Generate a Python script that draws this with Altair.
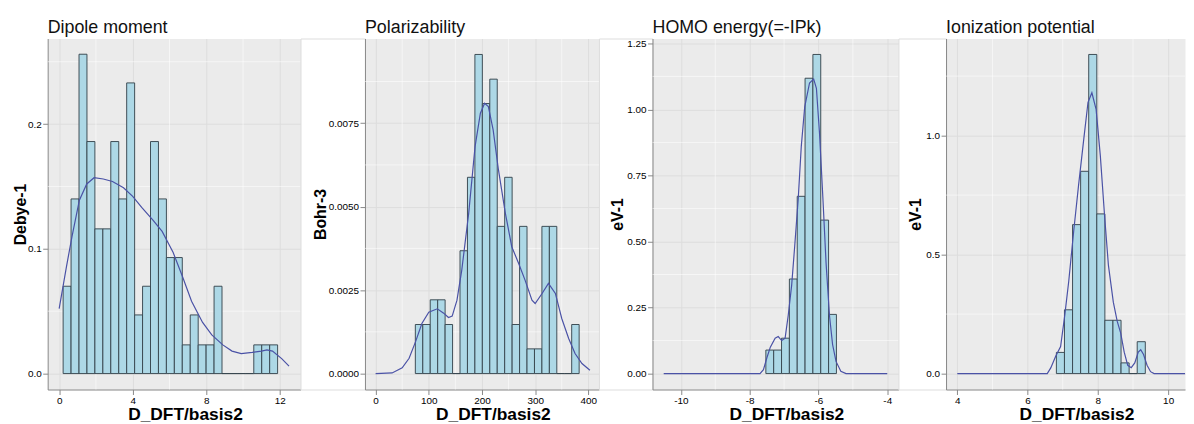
import altair as alt
import pandas as pd

H = 354

# ---------------- Dipole moment ----------------
dip_edges = [0.216, 0.648, 1.080, 1.512, 1.944, 2.376, 2.808, 3.240, 3.672, 4.104,
             4.536, 4.968, 5.400, 5.832, 6.264, 6.696, 7.128, 7.560, 7.992, 8.424,
             8.856, 9.288, 9.720, 10.152, 10.584, 11.016, 11.448, 11.880]
dip_density = [0.070, 0.140, 0.256, 0.186, 0.116, 0.116, 0.186, 0.140, 0.233, 0.047,
               0.070, 0.186, 0.140, 0.093, 0.093, 0.023, 0.047, 0.023, 0.023, 0.070,
               0.0, 0.0, 0.0, 0.0, 0.023, 0.023, 0.023]
dip_curve_x = [0.0, 0.4, 0.7, 1.1, 1.5, 1.9, 2.4, 2.9, 3.5, 4.0, 4.5, 5.1, 5.6, 6.2,
               6.7, 7.2, 7.8, 8.3, 8.9, 9.4, 9.9, 10.5, 11.0, 11.3, 11.6, 12.1, 12.5]
dip_curve_y = [0.052, 0.086, 0.110, 0.139, 0.152, 0.157, 0.156, 0.154, 0.149, 0.142,
               0.133, 0.123, 0.114, 0.097, 0.078, 0.058, 0.041, 0.031, 0.023, 0.018,
               0.016, 0.017, 0.018, 0.019, 0.018, 0.012, 0.006]

# ---------------- Polarizability ----------------
pol_edges = [74.7, 88.7, 102.7, 116.7, 130.7, 144.7, 158.7, 172.7, 186.7, 200.7, 214.7,
             228.7, 242.7, 256.7, 270.7, 284.7, 298.7, 312.7, 326.7, 340.7, 354.7,
             368.7, 382.7]
pol_density = [0.00147, 0.00147, 0.00221, 0.00221, 0.00147, 0.0, 0.00368, 0.00588,
               0.00956, 0.00809, 0.00882, 0.00441, 0.00588, 0.00147, 0.00441, 0.00074,
               0.00074, 0.00441, 0.00441, 0.0, 0.0, 0.00147]
pol_curve_x = [0, 31, 50, 63, 75, 87, 100, 116, 128, 137, 144, 153, 162, 175, 187, 197,
               205, 212, 221, 231, 244, 256, 269, 281, 294, 300, 313, 325, 338, 350,
               363, 375, 388, 403]
pol_curve_y = [0.0, 0.00002, 0.00017, 0.00046, 0.00095, 0.00150, 0.00184, 0.00194,
               0.00181, 0.00168, 0.00172, 0.00220, 0.00310, 0.00480, 0.00680, 0.00780,
               0.00810, 0.00800, 0.00730, 0.00610, 0.00480, 0.00380, 0.00330, 0.00280,
               0.00220, 0.00210, 0.00240, 0.00270, 0.00240, 0.00165, 0.00105, 0.00060,
               0.00030, 0.00010]

# ---------------- HOMO energy ----------------
homo_edges = [-7.530, -7.302, -7.074, -6.846, -6.618, -6.390, -6.162, -5.934, -5.706, -5.478]
homo_density = [0.089, 0.089, 0.134, 0.358, 0.671, 1.118, 1.208, 0.581, 0.224]
homo_curve_x = [-10.5, -7.7, -7.6, -7.5, -7.4, -7.26, -7.17, -7.07, -6.97, -6.88, -6.78,
                -6.69, -6.59, -6.5, -6.4, -6.26, -6.14, -6.06, -5.97, -5.87, -5.78,
                -5.68, -5.59, -5.49, -5.35, -5.2, -4.0]
homo_curve_y = [0.0, 0.0, 0.015, 0.060, 0.100, 0.134, 0.140, 0.125, 0.134, 0.220, 0.334,
                0.484, 0.660, 0.860, 1.010, 1.100, 1.115, 1.080, 0.910, 0.660, 0.420,
                0.220, 0.110, 0.046, 0.009, 0.0, 0.0]

# ---------------- Ionization potential ----------------
ip_edges = [6.82, 7.05, 7.28, 7.51, 7.74, 7.97, 8.20, 8.43, 8.66, 8.89, 9.12, 9.35]
ip_density = [0.089, 0.268, 0.626, 0.850, 1.341, 0.671, 0.224, 0.224, 0.045, 0.0, 0.134]
ip_curve_x = [4.0, 6.56, 6.66, 6.8, 6.94, 7.06, 7.17, 7.31, 7.45, 7.6, 7.72, 7.83, 7.95,
              8.07, 8.19, 8.3, 8.44, 8.55, 8.65, 8.75, 8.85, 8.95, 9.05, 9.15, 9.22,
              9.3, 9.4, 9.5, 9.6, 10.6]
ip_curve_y = [0.0, 0.0, 0.024, 0.073, 0.114, 0.247, 0.386, 0.595, 0.790, 0.986, 1.140,
              1.180, 1.110, 0.916, 0.665, 0.456, 0.300, 0.220, 0.170, 0.090, 0.035,
              0.025, 0.045, 0.090, 0.100, 0.080, 0.035, 0.008, 0.0, 0.0]

FILL = "#ADD8E6"
OUTLINE = "#37464f"
LINE = "#4a52a6"


def panel(title, ytitle, edges, dens, cx, cy, xdom, ydom, xticks, xminor,
          yticks, yminor, yfmt, width, ytitle_x):
    bars = pd.DataFrame({"lo": edges[:-1], "hi": edges[1:], "d": dens})
    curve = pd.DataFrame({"cx": cx, "cy": cy})
    xs = alt.Scale(domain=xdom, nice=False, zero=False)
    ys = alt.Scale(domain=ydom, nice=False, zero=False)
    xaxis = alt.Axis(values=xticks, labelExpr="datum.value + ''", title="D_DFT/basis2",
                     titleX=width / 2 + 11, titleY=30, titleAlign="center",
                     titleBaseline="alphabetic", titleFontSize=17.5, labelPadding=1,
                     labelFlush=False, labelOverlap=False, grid=True)
    yaxis = alt.Axis(values=yticks, format=yfmt, title=ytitle, titleX=ytitle_x,
                     titleY=H / 2, titleAngle=270, titleAlign="center",
                     titleBaseline="middle", titleFontSize=16, labelPadding=1.5,
                     labelOverlap=False, grid=True)
    vx = alt.Chart(pd.DataFrame({"v": xminor})).mark_rule(
        color="white", strokeWidth=0.55).encode(x=alt.X("v:Q", scale=xs, axis=xaxis))
    vy = alt.Chart(pd.DataFrame({"v": yminor})).mark_rule(
        color="white", strokeWidth=0.55).encode(y=alt.Y("v:Q", scale=ys, axis=yaxis))
    rect = alt.Chart(bars).mark_rect(fill=FILL, stroke=OUTLINE, strokeWidth=0.95).encode(
        x=alt.X("lo:Q", scale=xs, axis=xaxis), x2="hi:Q",
        y=alt.Y("d:Q", scale=ys, axis=yaxis), y2=alt.datum(0))
    line = alt.Chart(curve).mark_line(color=LINE, strokeWidth=1.2, clip=True).encode(
        x=alt.X("cx:Q", scale=xs, axis=xaxis), y=alt.Y("cy:Q", scale=ys, axis=yaxis))
    return alt.layer(vx, vy, rect, line).properties(
        width=width, height=H,
        title=alt.TitleParams(text=title, anchor="start", frame="group",
                              font="Liberation Sans", fontSize=18, fontWeight="normal",
                              color="#111111", offset=-13, baseline="alphabetic"),
        view=alt.ViewBackground(fill="#EBEBEB", stroke="transparent"))


def spacer(w):
    return alt.Chart(pd.DataFrame({"s": [0]})).mark_point(opacity=0).encode(
        x=alt.value(0), y=alt.value(0)).properties(width=w, height=H)


p1 = panel("Dipole moment", "Debye-1", dip_edges, dip_density, dip_curve_x, dip_curve_y,
           [-0.625, 13.125], [-0.0128, 0.2686], [0, 4, 8, 12], [2, 6, 10],
           [0, 0.1, 0.2], [0.05, 0.15, 0.25], ".1f", 255, -27)
p2 = panel("Polarizability", "Bohr-3", pol_edges, pol_density, pol_curve_x, pol_curve_y,
           [-20, 420], [-0.000478, 0.010038], [0, 100, 200, 300, 400], [50, 150, 250, 350],
           [0, 0.0025, 0.005, 0.0075], [0.00125, 0.00375, 0.00625, 0.00875], ".4f", 236, -45)
p3 = panel("HOMO energy(=-IPk)", "eV-1", homo_edges, homo_density, homo_curve_x, homo_curve_y,
           [-10.825, -3.675], [-0.0604, 1.2684], [-10, -8, -6, -4], [-9, -7, -5],
           [0, 0.25, 0.5, 0.75, 1.0, 1.25], [0.125, 0.375, 0.625, 0.875, 1.125], ".2f", 248, -35)
p4 = panel("Ionization potential", "eV-1", ip_edges, ip_density, ip_curve_x, ip_curve_y,
           [3.68, 10.48], [-0.067, 1.408], [4, 6, 8, 10], [5, 7, 9],
           [0, 0.5, 1.0], [0.25, 0.75, 1.25], ".1f", 241, -31)

chart = alt.hconcat(p1, spacer(65), p2, spacer(54), p3, spacer(48), p4,
                    spacing=0, bounds="flush").properties(
    padding={"left": 4, "top": 9, "right": 0, "bottom": 0}
).configure_view(stroke="transparent", strokeWidth=0).configure_axis(
    labelFont="Liberation Sans", labelFontWeight="bold", labelFontSize=11,
    labelColor="#333333", tickColor="#333333", tickSize=3, tickWidth=1,
    domain=False, gridColor="white", gridWidth=1.1,
    titleFont="Liberation Sans", titleFontWeight="bold", titleColor="black"
).configure(background="white")

chart.save("out.html", embed_options={"renderer": "svg", "actions": False})
